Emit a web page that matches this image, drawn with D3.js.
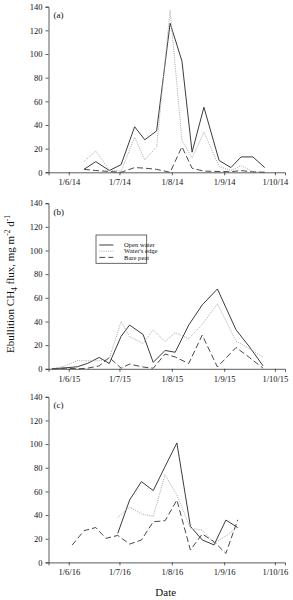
<!DOCTYPE html>
<html><head><meta charset="utf-8">
<script src="https://cdn.jsdelivr.net/npm/d3@7"></script>
<style>
html,body{margin:0;padding:0;background:#fff;}
svg text{font-family:"Liberation Serif","Times New Roman",serif;}
</style></head>
<body>
<svg id="chart" width="293" height="600"></svg>
<script>
// ---- data (dates are day/month/year in the original) ----
const datesA = ["2014-06-10","2014-06-17","2014-06-25","2014-07-02","2014-07-10","2014-07-16","2014-07-23","2014-07-31","2014-08-07","2014-08-13","2014-08-20","2014-08-29","2014-09-05","2014-09-11","2014-09-18","2014-09-25"];
const openA  = [2.5, 9, 1.5, 6.5, 38.5, 27.5, 35, 126, 94, 17, 55, 10, 4, 13, 13, 4];
const edgeA  = [9, 18, 2, 1, 29.6, 10.4, 21.6, 137, 27, 12, 34, 5, 1.5, 5.6, 0.5, 0];
const peatA  = [2.5, 1.5, 0.7, 0, 4, 3.5, 2.5, 0, 21.6, 3.4, 1, 0.7, 0.5, 1.5, 0.3, 0];

const datesB = ["2015-05-22","2015-05-30","2015-06-06","2015-06-12","2015-06-19","2015-06-25","2015-07-02","2015-07-07","2015-07-15","2015-07-21","2015-07-28","2015-08-03","2015-08-11","2015-08-19","2015-08-28","2015-09-08","2015-09-16","2015-09-24"];
const openB  = [0, 0.8, 1.7, 4.5, 9.6, 4.5, 27.5, 37, 29, 5.4, 15.5, 14, 37, 54, 67.5, 33, 18.5, 2.5];
const edgeB  = [0, 2.5, 6.8, 6.8, 6.8, 8.8, 40, 27, 21.5, 33, 23, 30.5, 25.5, 37.5, 55, 23.4, 17, 10];
const peatB  = [0, 0.5, 0, 0.5, 2.5, 9.5, 0.5, 4, 1.5, 0.5, 12.5, 10, 4.5, 28.5, 1.5, 18, 9.5, 0.5];

const datesC = ["2016-06-03","2016-06-10","2016-06-17","2016-06-23","2016-06-30","2016-07-07","2016-07-14","2016-07-21","2016-07-28","2016-08-04","2016-08-12","2016-08-19","2016-08-26","2016-09-02","2016-09-09"];
const openC  = [null, null, null, null, 24.5, 52.7, 68.3, 60.7, 81, 101, 30.5, 19, 14.8, 35.8, 29.5];
const edgeC  = [null, null, null, null, 38, 46.7, 41, 39, 74, 57, 29, 27.3, 16, 22.5, 30];
const peatC  = [14.6, 26.8, 29.5, 20.3, 22.8, 15.5, 18.9, 34.4, 35.2, 52.7, 10.5, 24, 17.5, 7.6, 36];

const yTicks = [0, 20, 40, 60, 80, 100, 120, 140];
const seriesNames = ["Open water", "Water's edge", "Bare peat"];
const panelLabels = ["(a)", "(b)", "(c)"];
const years = [2014, 2015, 2016];

// ---- styles ----
const styles = [
  {stroke:"#3c3c3c", dash:null, width:1},
  {stroke:"#a8a8a8", dash:"1,1.2", width:1},
  {stroke:"#4a4a4a", dash:"6,3", width:1}
];

const svg = d3.select("#chart");
const parse = d3.timeParse("%Y-%m-%d");
const panels = [
  {dates:datesA, series:[openA, edgeA, peatA], top:6.7},
  {dates:datesB, series:[openB, edgeB, peatB], top:203.2},
  {dates:datesC, series:[openC, edgeC, peatC], top:396.8}
];
const left = 48.5, right = 285, ph = 165.6;

panels.forEach((p, i) => {
  const yr = years[i];
  const x = d3.scaleTime().domain([new Date(yr,4,20), new Date(yr,9,7)]).range([left, right]);
  const y = d3.scaleLinear().domain([0,140]).range([p.top+ph, p.top]);
  const g = svg.append("g");

  const tickDates = [5,6,7,8,9].map(m => new Date(yr, m, 1));
  const fmt = d => `1/${d.getMonth()+1}/${String(yr).slice(2)}`;

  const xa = g.append("g").attr("transform",`translate(0,${p.top+ph})`)
    .call(d3.axisBottom(x).tickValues(tickDates).tickFormat(fmt).tickSizeOuter(0).tickSize(3).tickPadding(4));
  const ya = g.append("g").attr("transform",`translate(${left},0)`)
    .call(d3.axisLeft(y).tickValues(yTicks).tickSizeOuter(0).tickSize(3).tickPadding(3));
  [xa, ya].forEach(a => {
    a.selectAll("text").attr("font-size", 8.5).attr("fill","#111").style("font-family","'Liberation Serif',serif");
    a.selectAll("line").attr("stroke","#333").attr("stroke-width",0.8);
    a.select(".domain").attr("stroke","#333").attr("stroke-width",0.8);
  });

  g.append("text").attr("x", left+5).attr("y", p.top+11.5).attr("font-size", 9).attr("fill","#111").text(panelLabels[i]);

  const pts = p.dates.map(parse);
  p.series.forEach((vals, si) => {
    const st = styles[si];
    const line = d3.line().defined(d => d[1] !== null).x(d => x(d[0])).y(d => y(d[1]));
    g.append("path").datum(pts.map((d,k) => [d, vals[k]]))
      .attr("d", line).attr("fill","none").attr("stroke", st.stroke)
      .attr("stroke-width", st.width).attr("stroke-dasharray", st.dash);
  });

  if (i === 1) {
    const lg = g.append("g");
    lg.append("rect").attr("x",96).attr("y",235).attr("width",50.7).attr("height",28.3)
      .attr("fill","#fff").attr("stroke","#444").attr("stroke-width",0.8);
    const ly = [245, 251.2, 257.4];
    seriesNames.forEach((n, si) => {
      const st = styles[si];
      lg.append("line").attr("x1",99.3).attr("x2",113.3).attr("y1",ly[si]).attr("y2",ly[si])
        .attr("stroke",st.stroke).attr("stroke-width",st.width).attr("stroke-dasharray", st.dash);
      lg.append("text").attr("x",124).attr("y",ly[si]+2.2).attr("font-size",6.6).attr("fill","#111").text(n);
    });
  }
});

// y-axis title
const yt = svg.append("text").attr("transform","translate(14,284) rotate(-90)")
  .attr("text-anchor","middle").attr("font-size",11).attr("fill","#111");
yt.append("tspan").text("Ebullition CH");
yt.append("tspan").attr("font-size",7.5).attr("dy",2.5).text("4");
yt.append("tspan").attr("dy",-2.5).text(" flux, mg m");
yt.append("tspan").attr("font-size",7.5).attr("dy",-4).text("-2");
yt.append("tspan").attr("dy",4).text(" d");
yt.append("tspan").attr("font-size",7.5).attr("dy",-4).text("-1");

svg.append("text").attr("x",165.7).attr("y",595.5).attr("text-anchor","middle")
  .attr("font-size",11).attr("fill","#111").text("Date");
</script>
</body></html>
